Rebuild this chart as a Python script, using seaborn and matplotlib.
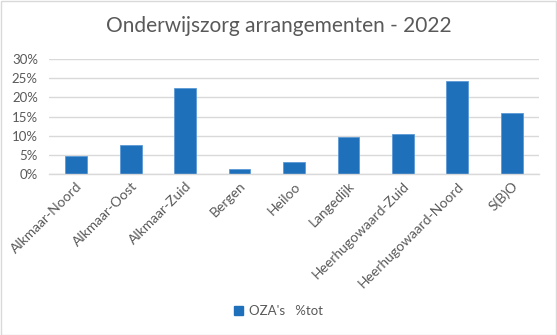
import matplotlib
matplotlib.use("Agg")
import matplotlib.pyplot as plt
import seaborn as sns
import pandas as pd
from matplotlib.patches import Rectangle, Patch
from matplotlib.ticker import PercentFormatter, MultipleLocator

categories = ["Alkmaar-Noord", "Alkmaar-Oost", "Alkmaar-Zuid", "Bergen", "Heiloo",
              "Langedijk", "Heerhugowaard-Zuid", "Heerhugowaard-Noord", "S(B)O"]
values = [4.75, 7.6, 22.5, 1.3, 3.2, 9.6, 10.5, 24.2, 16.0]
series_label = "OZA's   %tot"
title = "Onderwijszorg arrangementen - 2022"

sns.set_theme(style="white")
plt.rcParams['font.family'] = ['Lato', 'DejaVu Sans']

df = pd.DataFrame({"cat": categories, "val": values})

W, H = 557, 335
fig = plt.figure(figsize=(W / 100, H / 100), dpi=100)
fig.patch.set_facecolor("white")
fig.add_artist(Rectangle((0.5 / W, 0.5 / H), 1 - 1.5 / W, 1 - 1.5 / H, transform=fig.transFigure,
                         fill=False, edgecolor="#D9D9D9", linewidth=1.0))

ax = fig.add_axes([49 / W, 1 - 174.3 / H, (539 - 49) / W, (174.3 - 58.7) / H])
bar_color = "#1F70BA"
sns.barplot(data=df, x="cat", y="val", color=bar_color, width=0.4, ax=ax,
            saturation=1, edgecolor="#5B9BD5", linewidth=0.6)

ax.set_ylim(0, 30)
ax.yaxis.set_major_locator(MultipleLocator(5))
ax.yaxis.set_major_formatter(PercentFormatter(decimals=0))
ax.set_xlim(-0.5, len(categories) - 0.5)
ax.grid(axis="y", color="#D9D9D9", linewidth=1.0)
ax.set_axisbelow(True)
for s in ["top", "right", "left"]:
    ax.spines[s].set_visible(False)
ax.spines["bottom"].set_color("#D9D9D9")
ax.spines["bottom"].set_linewidth(1.0)
ax.set_xlabel("")
ax.set_ylabel("")
ax.tick_params(axis="both", length=0, colors="#595959", labelsize=9.5)
ax.tick_params(axis="x", labelsize=10, pad=4)
ax.tick_params(axis="y", pad=8)
for lab in ax.get_xticklabels():
    lab.set_rotation(45)
    lab.set_ha("right")
    lab.set_va("top")
    lab.set_rotation_mode("anchor")
    lab.set_color("#595959")

fig.text(0.5, 1 - 26 / H, title, ha="center", va="center", fontsize=15, color="#595959")

handle = Patch(facecolor=bar_color, edgecolor=bar_color)
leg = fig.legend([handle], [series_label], loc="center", bbox_to_anchor=(0.5, 1 - 311 / H),
                 frameon=False, fontsize=9.5, handlelength=0.7, handleheight=0.7, handletextpad=0.5)
for t in leg.get_texts():
    t.set_color("#595959")

fig.savefig("out.png", dpi=100)
